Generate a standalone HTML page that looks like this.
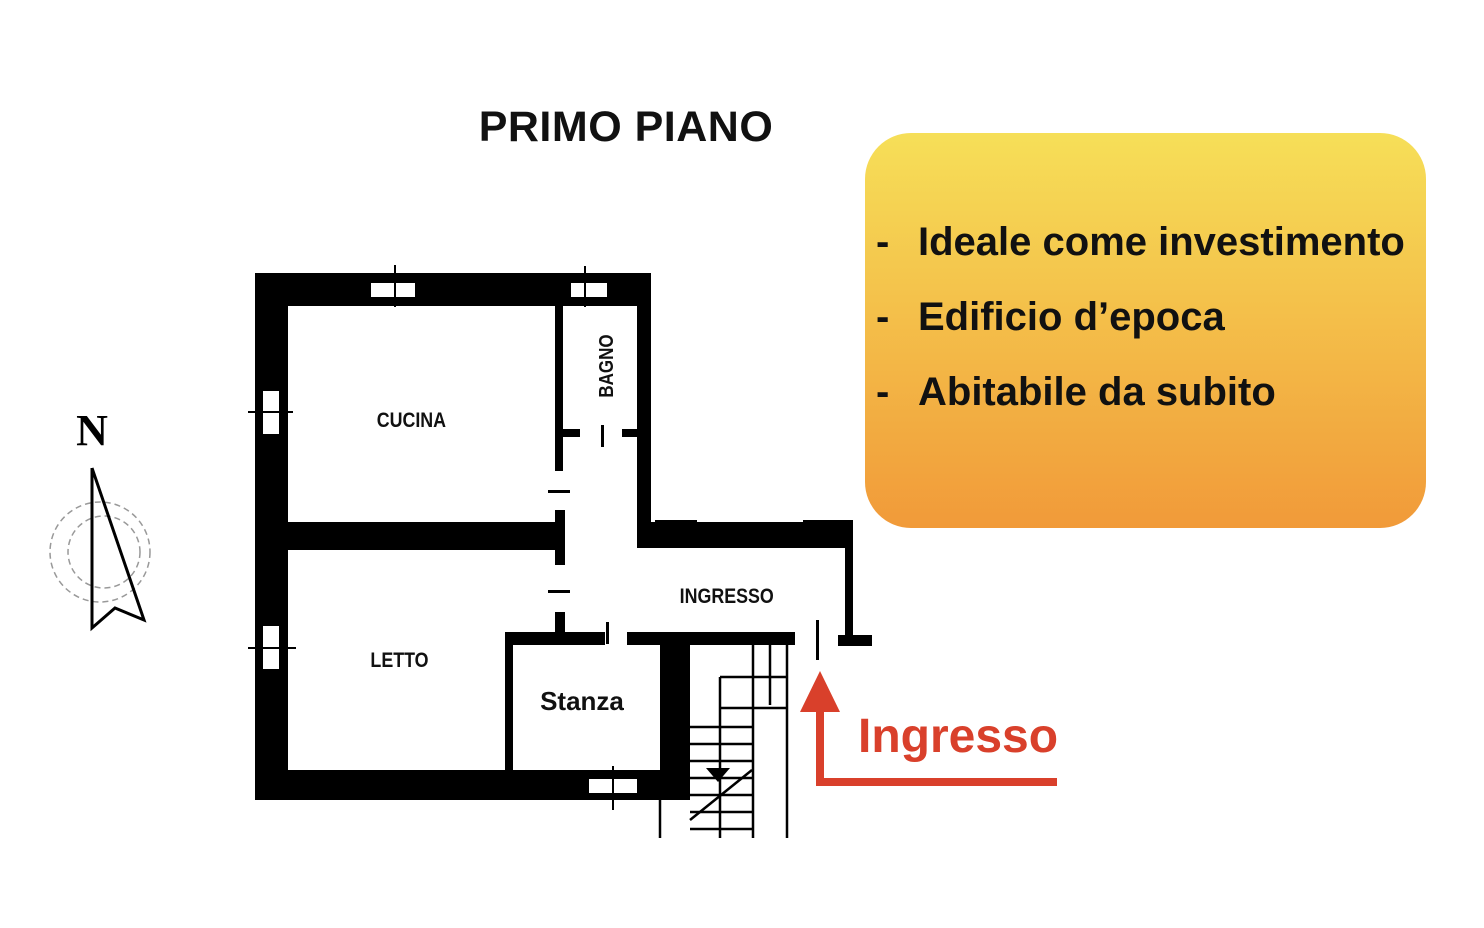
<!DOCTYPE html>
<html><head><meta charset="utf-8"><style>
html,body{margin:0;padding:0;background:#fff;}
body{width:1484px;height:928px;position:relative;overflow:hidden;font-family:"Liberation Sans",sans-serif;}
.box{position:absolute;left:865px;top:133px;width:561px;height:395px;border-radius:46px;background:linear-gradient(#f6df58,#f19a39);}
.li{position:absolute;font-weight:bold;font-size:40px;color:#111;line-height:40px;}
</style></head><body>
<svg width="1484" height="928" style="position:absolute;left:0;top:0">
<text x="626" y="141" font-family="Liberation Sans" font-weight="bold" font-size="43" text-anchor="middle" fill="#111" letter-spacing="0.5">PRIMO PIANO</text>
<!-- compass -->
<text x="92" y="445" font-family="Liberation Serif" font-weight="bold" font-size="44" text-anchor="middle" fill="#000">N</text>
<circle cx="100" cy="552" r="50" fill="none" stroke="#999" stroke-width="1.5" stroke-dasharray="6 4"/>
<circle cx="104" cy="552" r="36" fill="none" stroke="#999" stroke-width="1.5" stroke-dasharray="6 4"/>
<polyline points="92,468 92,628 115,608 144,620 92,468" fill="none" stroke="#000" stroke-width="3"/>
<!-- walls -->
<g fill="#000">
<rect x="255" y="273" width="396" height="33"/>
<rect x="255" y="273" width="33" height="527"/>
<rect x="255" y="770" width="433" height="30"/>
<rect x="637" y="273" width="14" height="267"/>
<rect x="637" y="522" width="216" height="26"/>
<rect x="655" y="520" width="42" height="10"/>
<rect x="803" y="520" width="50" height="10"/>
<rect x="845" y="520" width="8" height="122"/>
<rect x="838" y="635" width="34" height="11"/>
<rect x="555" y="306" width="8" height="165"/>
<rect x="555" y="429" width="25" height="8"/>
<rect x="622" y="429" width="20" height="8"/>
<rect x="288" y="522" width="277" height="28"/>
<rect x="555" y="510" width="10" height="55"/>
<rect x="555" y="612" width="10" height="25"/>
<rect x="505" y="632" width="100" height="13"/>
<rect x="627" y="632" width="168" height="13"/>
<rect x="505" y="632" width="8" height="138"/>
<rect x="660" y="635" width="30" height="165"/>
<rect x="548" y="490" width="22" height="3"/>
<rect x="548" y="590" width="22" height="3"/>
<rect x="601" y="425" width="3" height="22"/>
<rect x="606" y="622" width="3" height="22"/>
<rect x="816" y="620" width="3" height="40"/>
</g>
<!-- windows -->
<g fill="#fff" stroke="#000" stroke-width="2">
<rect x="370" y="282" width="46" height="16"/>
<rect x="570" y="282" width="38" height="16"/>
<rect x="262" y="390" width="18" height="45"/>
<rect x="262" y="625" width="18" height="45"/>
<rect x="588" y="778" width="50" height="16"/>
</g>
<g stroke="#000" stroke-width="2">
<line x1="395" y1="265" x2="395" y2="307"/><line x1="585" y1="266" x2="585" y2="307"/>
<line x1="248" y1="412" x2="293" y2="412"/><line x1="248" y1="648" x2="296" y2="648"/>
<line x1="613" y1="766" x2="613" y2="810"/>
</g>
<!-- stairs -->
<g stroke="#000" stroke-width="2.5" fill="none">
<line x1="753" y1="645" x2="753" y2="838"/><line x1="770" y1="645" x2="770" y2="705"/><line x1="787" y1="645" x2="787" y2="838"/>
<line x1="720" y1="677" x2="787" y2="677"/><line x1="720" y1="677" x2="720" y2="838"/>
<line x1="720" y1="708" x2="787" y2="708"/>
<line x1="690" y1="727" x2="753" y2="727"/><line x1="690" y1="744" x2="753" y2="744"/><line x1="690" y1="761" x2="753" y2="761"/>
<line x1="690" y1="778" x2="753" y2="778"/><line x1="690" y1="795" x2="753" y2="795"/><line x1="690" y1="812" x2="753" y2="812"/><line x1="690" y1="829" x2="753" y2="829"/>
<line x1="660" y1="800" x2="660" y2="838"/><line x1="690" y1="820" x2="752" y2="770"/>
</g>
<path d="M706,768 L730,768 L718,782 Z" fill="#000"/>
<!-- labels -->
<g font-family="Liberation Sans" font-weight="bold" fill="#111">
<text x="412" y="427" font-size="21" text-anchor="middle" transform="scale(0.85,1) translate(72,0)">CUCINA</text>
<text x="400" y="667" font-size="21" text-anchor="middle" transform="scale(0.85,1) translate(70,0)">LETTO</text>
<text x="727" y="603" font-size="21" text-anchor="middle" transform="scale(0.85,1) translate(128,0)">INGRESSO</text>
<text font-size="20" text-anchor="middle" transform="translate(606,366) rotate(-90) scale(0.85,1)" dy="7">BAGNO</text>
<text x="582" y="710" font-size="26" text-anchor="middle">Stanza</text>
</g>
<!-- arrow -->
<g fill="#d9402b">
<rect x="816" y="708" width="8" height="78"/>
<rect x="816" y="778" width="241" height="8"/>
<polygon points="820,671 800,712 840,712"/>
</g>
<text x="858" y="752" font-family="Liberation Sans" font-weight="bold" font-size="48" fill="#d9402b">Ingresso</text>
</svg>
<div class="box"></div>
<div class="li" style="left:876px;top:222px">-</div><div class="li" style="left:918px;top:222px">Ideale come investimento</div>
<div class="li" style="left:876px;top:297px">-</div><div class="li" style="left:918px;top:297px">Edificio d’epoca</div>
<div class="li" style="left:876px;top:372px">-</div><div class="li" style="left:918px;top:372px">Abitabile da subito</div>
</body></html>
